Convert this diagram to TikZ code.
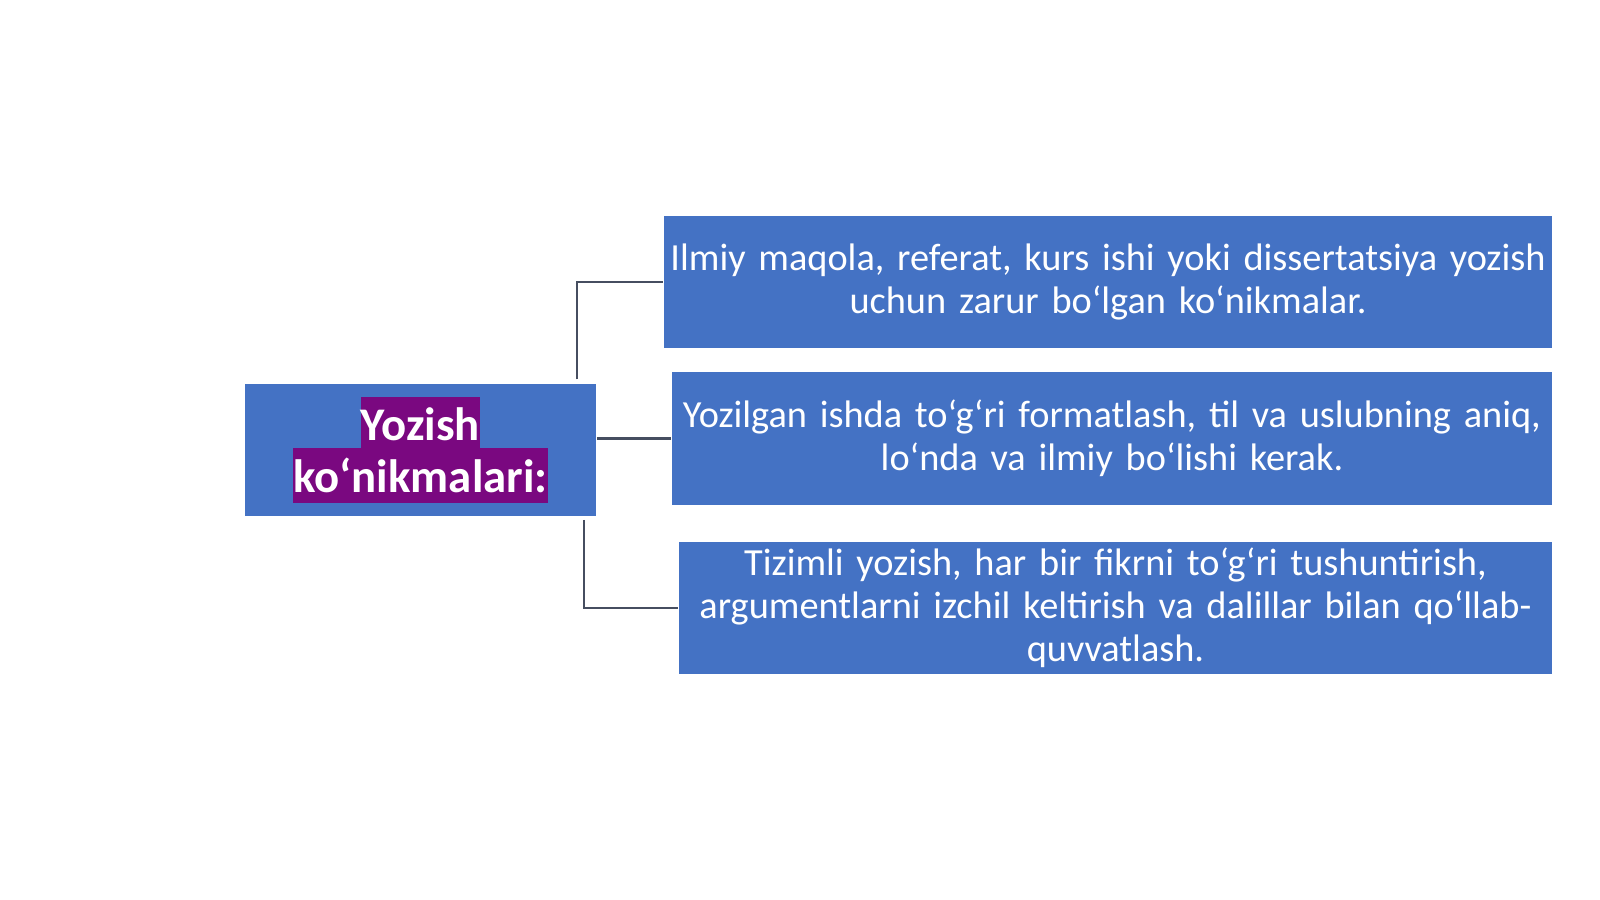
\documentclass[tikz,border=0pt]{standalone}
\usepackage{fontspec}
\setmainfont{Carlito}
\usepackage{tikz}
\usetikzlibrary{positioning, calc}
\definecolor{boxblue}{RGB}{68,114,196}
\definecolor{hlpurple}{RGB}{122,8,128}
\definecolor{linegray}{RGB}{70,78,96}

\begin{document}
\begin{tikzpicture}[x=0.01cm, y=-0.01cm,
    skill/.style={fill=boxblue, text=white, minimum height=1.32cm, align=center, inner sep=0pt,
      font=\fontsize{10.9}{12.2}\selectfont},
    link/.style={draw=linegray, line width=0.6pt}]
  \useasboundingbox[fill=white] (0,0) rectangle (1600,899);

  % main box with highlighted heading
  \node[skill, minimum width=3.51cm, font=\bfseries\fontsize{13.3}{14.52}\selectfont] (root) at (420.5,450)
    {\setlength{\fboxsep}{0pt}\colorbox{hlpurple}{\rule[-0.07cm]{0pt}{0.51cm}Yozish}\\
     \setlength{\fboxsep}{0pt}\colorbox{hlpurple}{\rule[-0.11cm]{0pt}{0.55cm}ko‘nikmalari:}};

  % the three skill boxes
  \node[skill, minimum width=8.88cm, text width=8.88cm] (skill1) at (1108,282)
    {Ilmiy maqola, referat, kurs ishi yoki dissertatsiya yozish\\ uchun zarur bo‘lgan ko‘nikmalar.};
  \node[skill, minimum width=8.8cm, text width=8.8cm] (skill2) at (1112,438.5)
    {Yozilgan ishda to‘g‘ri formatlash, til va uslubning aniq,\\ lo‘nda va ilmiy bo‘lishi kerak.};
  \node[skill, minimum width=8.73cm, text width=8.73cm] (skill3) at (1115.5,608)
    {Tizimli yozish, har bir fikrni to‘g‘ri tushuntirish,\\ argumentlarni izchil keltirish va dalillar bilan qo‘llab-\\ quvvatlash.};

  % connectors
  \draw[link] ([xshift=-0.2cm, yshift=0.04cm]root.north east) |- (skill1.west);
  \draw[link] (root.east |- skill2.west) -- (skill2.west);
  \draw[link] ([xshift=-0.13cm, yshift=-0.03cm]root.south east) |- (skill3.west);
\end{tikzpicture}
\end{document}
